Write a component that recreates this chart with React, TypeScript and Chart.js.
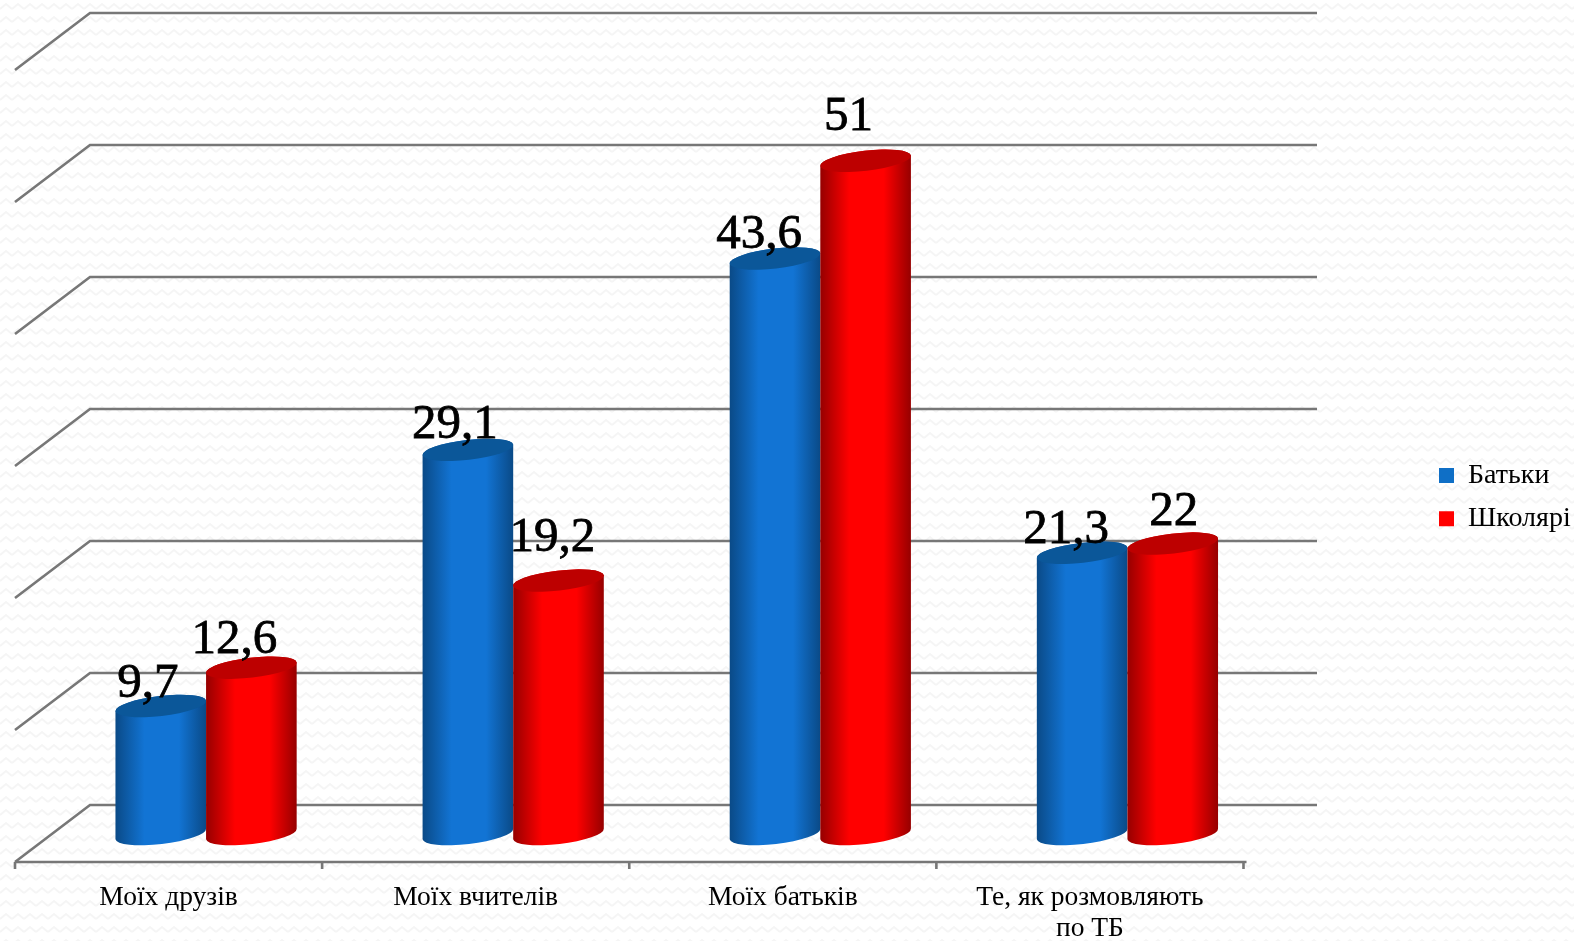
import React, { useEffect, useRef } from "react";
import { Chart, registerables, BarController, BarElement } from "chart.js";

const categories = ["Моїх друзів", "Моїх вчителів", "Моїх батьків", ["Те, як розмовляють", "по ТБ"]];
const seriesNames = ["Батьки", "Школярі"];
const parentsValues = [9.7, 29.1, 43.6, 21.3];
const pupilsValues = [12.6, 19.2, 51, 22];
const valueTicks = [0, 10, 20, 30, 40, 50, 60];

const SERIF = '"Liberation Serif", "DejaVu Serif", serif';
const GRID_COLOR = "#777777";

// Depth of the pseudo-3D floor, in pixels.
const DEPTH_X = 75;
const DEPTH_BACK = 29;
const DEPTH_FRONT = 28;
const FRONT_SHIFT = 37.5;
const RIGHT_WALL_END = 1317;
const AXIS_OVERHANG = 3;

// Hand-placed data labels: offset of each label's centre from the top of its column.
const labelNudges = [
  [[-13, -22], [-13, -25], [-16, -23], [-16, -23]],
  [[-17, -28], [-6, -42], [-17, -44], [1, -31]],
];

const shades: Record<string, { edge: string; lit: string; cap: string }> = {
  "#0f6fc6": { edge: "#0a4a87", lit: "#1274d4", cap: "#0b5799" },
  "#ff0000": { edge: "#960000", lit: "#ff0000", cap: "#bd0000" },
};

class CylinderBar extends BarElement {
  static id = "cylinderBar";
  static defaults = { ...BarElement.defaults };

  draw(ctx: CanvasRenderingContext2D) {
    const { x, y, base, width, options } = this as any;
    const half = width / 2;
    const tilt = -0.115;
    const rx = half / Math.cos(tilt);
    const ry = 10;
    const rise = half * Math.tan(tilt);
    const shade = shades[options.backgroundColor];

    const body = ctx.createLinearGradient(x - half, 0, x + half, 0);
    body.addColorStop(0, shade.edge);
    body.addColorStop(0.32, shade.lit);
    body.addColorStop(0.7, shade.lit);
    body.addColorStop(1, shade.edge);

    ctx.save();
    ctx.beginPath();
    ctx.moveTo(x - half, y - rise);
    ctx.lineTo(x - half, base - rise);
    ctx.ellipse(x, base, rx, ry, tilt, Math.PI, 0, true);
    ctx.lineTo(x + half, y + rise);
    ctx.ellipse(x, y, rx, ry, tilt, 0, Math.PI, true);
    ctx.closePath();
    ctx.fillStyle = body;
    ctx.fill();

    ctx.beginPath();
    ctx.ellipse(x, y, rx, ry, tilt, 0, Math.PI * 2);
    ctx.fillStyle = shade.cap;
    ctx.fill();
    ctx.restore();
  }
}

class CylinderController extends BarController {
  static id = "cylinder";
  static defaults = { ...BarController.defaults, dataElementType: "cylinderBar" };
}

Chart.register(...registerables, CylinderBar, CylinderController);

function wavePattern(ctx: CanvasRenderingContext2D) {
  const tile = document.createElement("canvas");
  tile.width = 12;
  tile.height = 13;
  const t = tile.getContext("2d")!;
  t.fillStyle = "#ffffff";
  t.fillRect(0, 0, 12, 13);
  t.strokeStyle = "#f5f5f5";
  t.lineWidth = 2;
  t.beginPath();
  t.moveTo(0, 9);
  t.lineTo(6, 4);
  t.lineTo(12, 9);
  t.stroke();
  return ctx.createPattern(tile, "repeat")!;
}

function strokeGrid(ctx: CanvasRenderingContext2D, draw: () => void) {
  ctx.strokeStyle = GRID_COLOR;
  ctx.lineWidth = 2.6;
  ctx.lineJoin = "miter";
  ctx.beginPath();
  draw();
  ctx.stroke();
}

const wallsPlugin = {
  id: "walls",
  beforeDraw(chart: any) {
    const { ctx, width, height } = chart;
    ctx.save();
    ctx.fillStyle = wavePattern(ctx);
    ctx.fillRect(0, 0, width, height);
    ctx.restore();
  },
  afterLayout(chart: any) {
    // The legend sits in the free strip right of the back wall.
    const legend = chart.legend;
    legend.left = 1423.6;
    legend.top = 446;
    legend.right = 1574;
    legend.bottom = 640;
    legend.width = 150.4;
    legend.height = 194;
  },
  // Later series stand in front of earlier ones, so the first series is painted first.
  beforeDatasetDraw(chart: any, args: any) {
    if (args.index === 1) return false;
  },
  afterDatasetDraw(chart: any, args: any) {
    if (args.index === 0) chart.getDatasetMeta(1).controller.draw();
  },
  beforeDatasetsDraw(chart: any) {
    const { ctx, scales } = chart;
    const { x: xScale, y: yScale } = scales;
    const frontLeft = xScale.left - FRONT_SHIFT;
    const backLeft = frontLeft + DEPTH_X;
    ctx.save();
    strokeGrid(ctx, () => {
      yScale.ticks.forEach((tick: any) => {
        const py = yScale.getPixelForValue(tick.value);
        ctx.moveTo(frontLeft, py + DEPTH_FRONT);
        ctx.lineTo(backLeft, py - DEPTH_BACK);
        ctx.lineTo(RIGHT_WALL_END, py - DEPTH_BACK);
      });
    });
    const floorY = yScale.getPixelForValue(0) + DEPTH_FRONT;
    const frontRight = xScale.right - FRONT_SHIFT;
    strokeGrid(ctx, () => {
      ctx.moveTo(frontLeft, floorY);
      ctx.lineTo(frontRight + AXIS_OVERHANG, floorY);
      const step = (frontRight - frontLeft) / categories.length;
      for (let i = 0; i <= categories.length; i++) {
        ctx.moveTo(frontLeft + i * step, floorY);
        ctx.lineTo(frontLeft + i * step, floorY + 7);
      }
    });
    ctx.restore();
  },
  afterDatasetsDraw(chart: any) {
    const { ctx } = chart;
    ctx.save();
    ctx.fillStyle = "#000";
    ctx.strokeStyle = "#000";
    ctx.lineWidth = 0.8;
    ctx.font = `49px ${SERIF}`;
    ctx.textAlign = "center";
    ctx.textBaseline = "middle";
    chart.data.datasets.forEach((ds: any, d: number) => {
      chart.getDatasetMeta(d).data.forEach((bar: any, i: number) => {
        const text = String(ds.data[i]).replace(".", ",");
        const [dx, dy] = labelNudges[d][i];
        ctx.fillText(text, bar.x + dx, bar.y + dy);
        ctx.strokeText(text, bar.x + dx, bar.y + dy);
      });
    });
    ctx.restore();
  },
};

export default function App() {
  const ref = useRef<HTMLCanvasElement>(null);

  useEffect(() => {
    const chart = new Chart(ref.current!, {
      type: "cylinder" as any,
      data: {
        labels: categories as any,
        datasets: [
          { label: seriesNames[0], data: parentsValues, backgroundColor: "#0f6fc6", clip: false },
          { label: seriesNames[1], data: pupilsValues, backgroundColor: "#ff0000", clip: false },
        ],
      },
      options: {
        responsive: false,
        animation: false,
        events: [],
        categoryPercentage: 0.59,
        barPercentage: 1,
        layout: { padding: { left: 52.5, right: 293, top: 42, bottom: 0 } },
        plugins: {
          tooltip: { enabled: false },
          legend: {
            position: "chartArea",
            align: "start",
            labels: {
              boxWidth: 15,
              boxHeight: 15,
              padding: 15.4,
              color: "#000",
              font: { family: SERIF, size: 28 },
            },
          },
        },
        scales: {
          y: {
            display: false,
            min: valueTicks[0],
            max: valueTicks[valueTicks.length - 1],
            ticks: { stepSize: valueTicks[1] - valueTicks[0] },
          },
          x: {
            grid: { display: false },
            border: { display: false },
            afterFit: (scale: any) => {
              scale.height = 107;
            },
            ticks: {
              autoSkip: false,
              maxRotation: 0,
              labelOffset: -FRONT_SHIFT,
              padding: 40,
              color: "#000",
              font: { family: SERIF, size: 27.5, lineHeight: 1.14 },
            },
          },
        },
      } as any,
      plugins: [wallsPlugin as any],
    });
    return () => chart.destroy();
  }, []);

  return (
    <div style={{ position: "fixed", left: 0, top: 0, width: 1574, height: 941, overflow: "hidden" }}>
      <canvas ref={ref} width={1574} height={941} style={{ display: "block" }} />
    </div>
  );
}
